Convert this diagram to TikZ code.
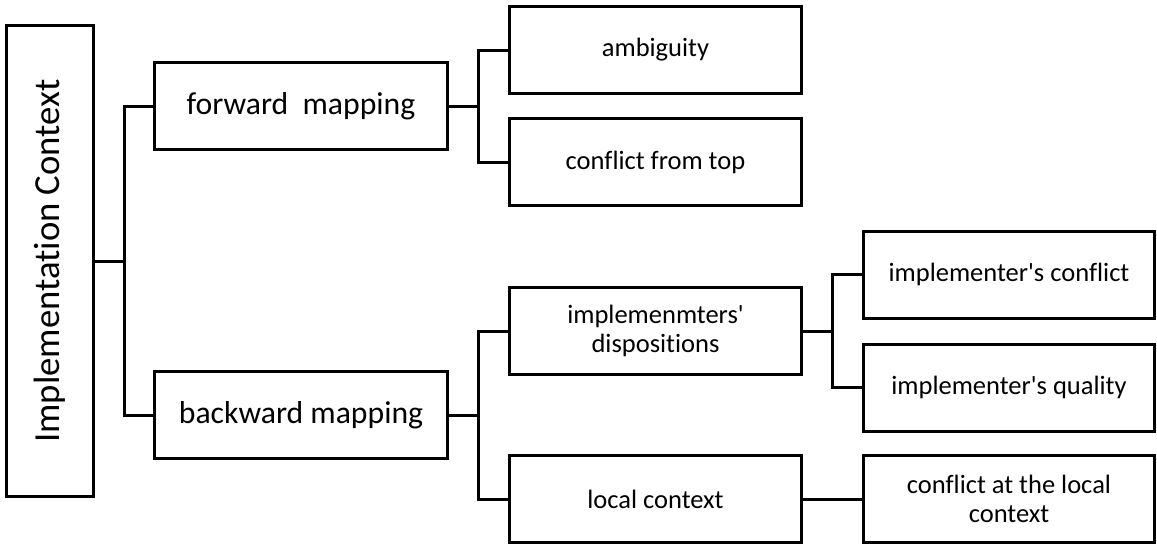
\documentclass[tikz,border=0pt]{standalone}
\usepackage{fontspec}
\setmainfont{Carlito}[Ligatures=NoCommon]
\begin{document}
\begin{tikzpicture}[x=1pt,y=-1pt,
  box/.style={draw, rectangle, inner sep=0pt, align=center, line width=3pt},
  lvlone/.style={box, minimum width=293pt, minimum height=87pt,
    font=\fontsize{31.7}{35}\selectfont},
  lvltwo/.style={box, minimum width=292pt, minimum height=87pt,
    font=\fontsize{26.5}{29}\selectfont},
  link/.style={line width=3pt, line join=miter, line cap=rect}]
  \useasboundingbox (0,0) rectangle (1157,547);

  % root
  \node[box, minimum width=87pt, minimum height=471pt] (root) at (50,261) {};
  \node[rotate=90, inner sep=0pt, font=\fontsize{36.7}{40}\selectfont] (roottext) at (root.center) {Implementation Context};

  % first level
  \node[lvlone] (fwd) at (301,106) {forward~~mapping};
  \node[lvlone] (bwd) at (301,415) {backward mapping};

  % second level
  \node[lvltwo] (amb)   at (655.5,50)  {ambiguity};
  \node[lvltwo] (cft)   at (655.5,162) {conflict from top};
  \node[lvltwo] (disp)  at (655.5,331) {implemenmters\textquotesingle\\dispositions};
  \node[lvltwo] (local) at (655.5,499) {local context};

  % third level
  \node[lvltwo, minimum width=291pt] (ic)  at (1009,274.5) {implementer\textquotesingle s conflict};
  \node[lvltwo, minimum width=291pt] (iq)  at (1009,387.5) {implementer\textquotesingle s quality};
  \node[lvltwo, minimum width=291pt] (clc) at (1009,499)   {conflict at the local\\context};

  % junction points
  \coordinate (j1) at (124,261);
  \coordinate (j2) at (478,106);
  \coordinate (j3) at (478,415);
  \coordinate (j4) at (832,331);

  % connectors
  \draw[link] (root.east) -- (j1);
  \draw[link] (fwd.west) -| (j1) |- (bwd.west);
  \draw[link] (fwd.east) -- (j2);
  \draw[link] (amb.west) -| (j2) |- (cft.west);
  \draw[link] (bwd.east) -- (j3);
  \draw[link] (disp.west) -| (j3) |- (local.west);
  \draw[link] (disp.east) -- (j4);
  \draw[link] (ic.west) -| (j4) |- (iq.west);
  \draw[link] (local.east) -- (clc.west);
\end{tikzpicture}
\end{document}
